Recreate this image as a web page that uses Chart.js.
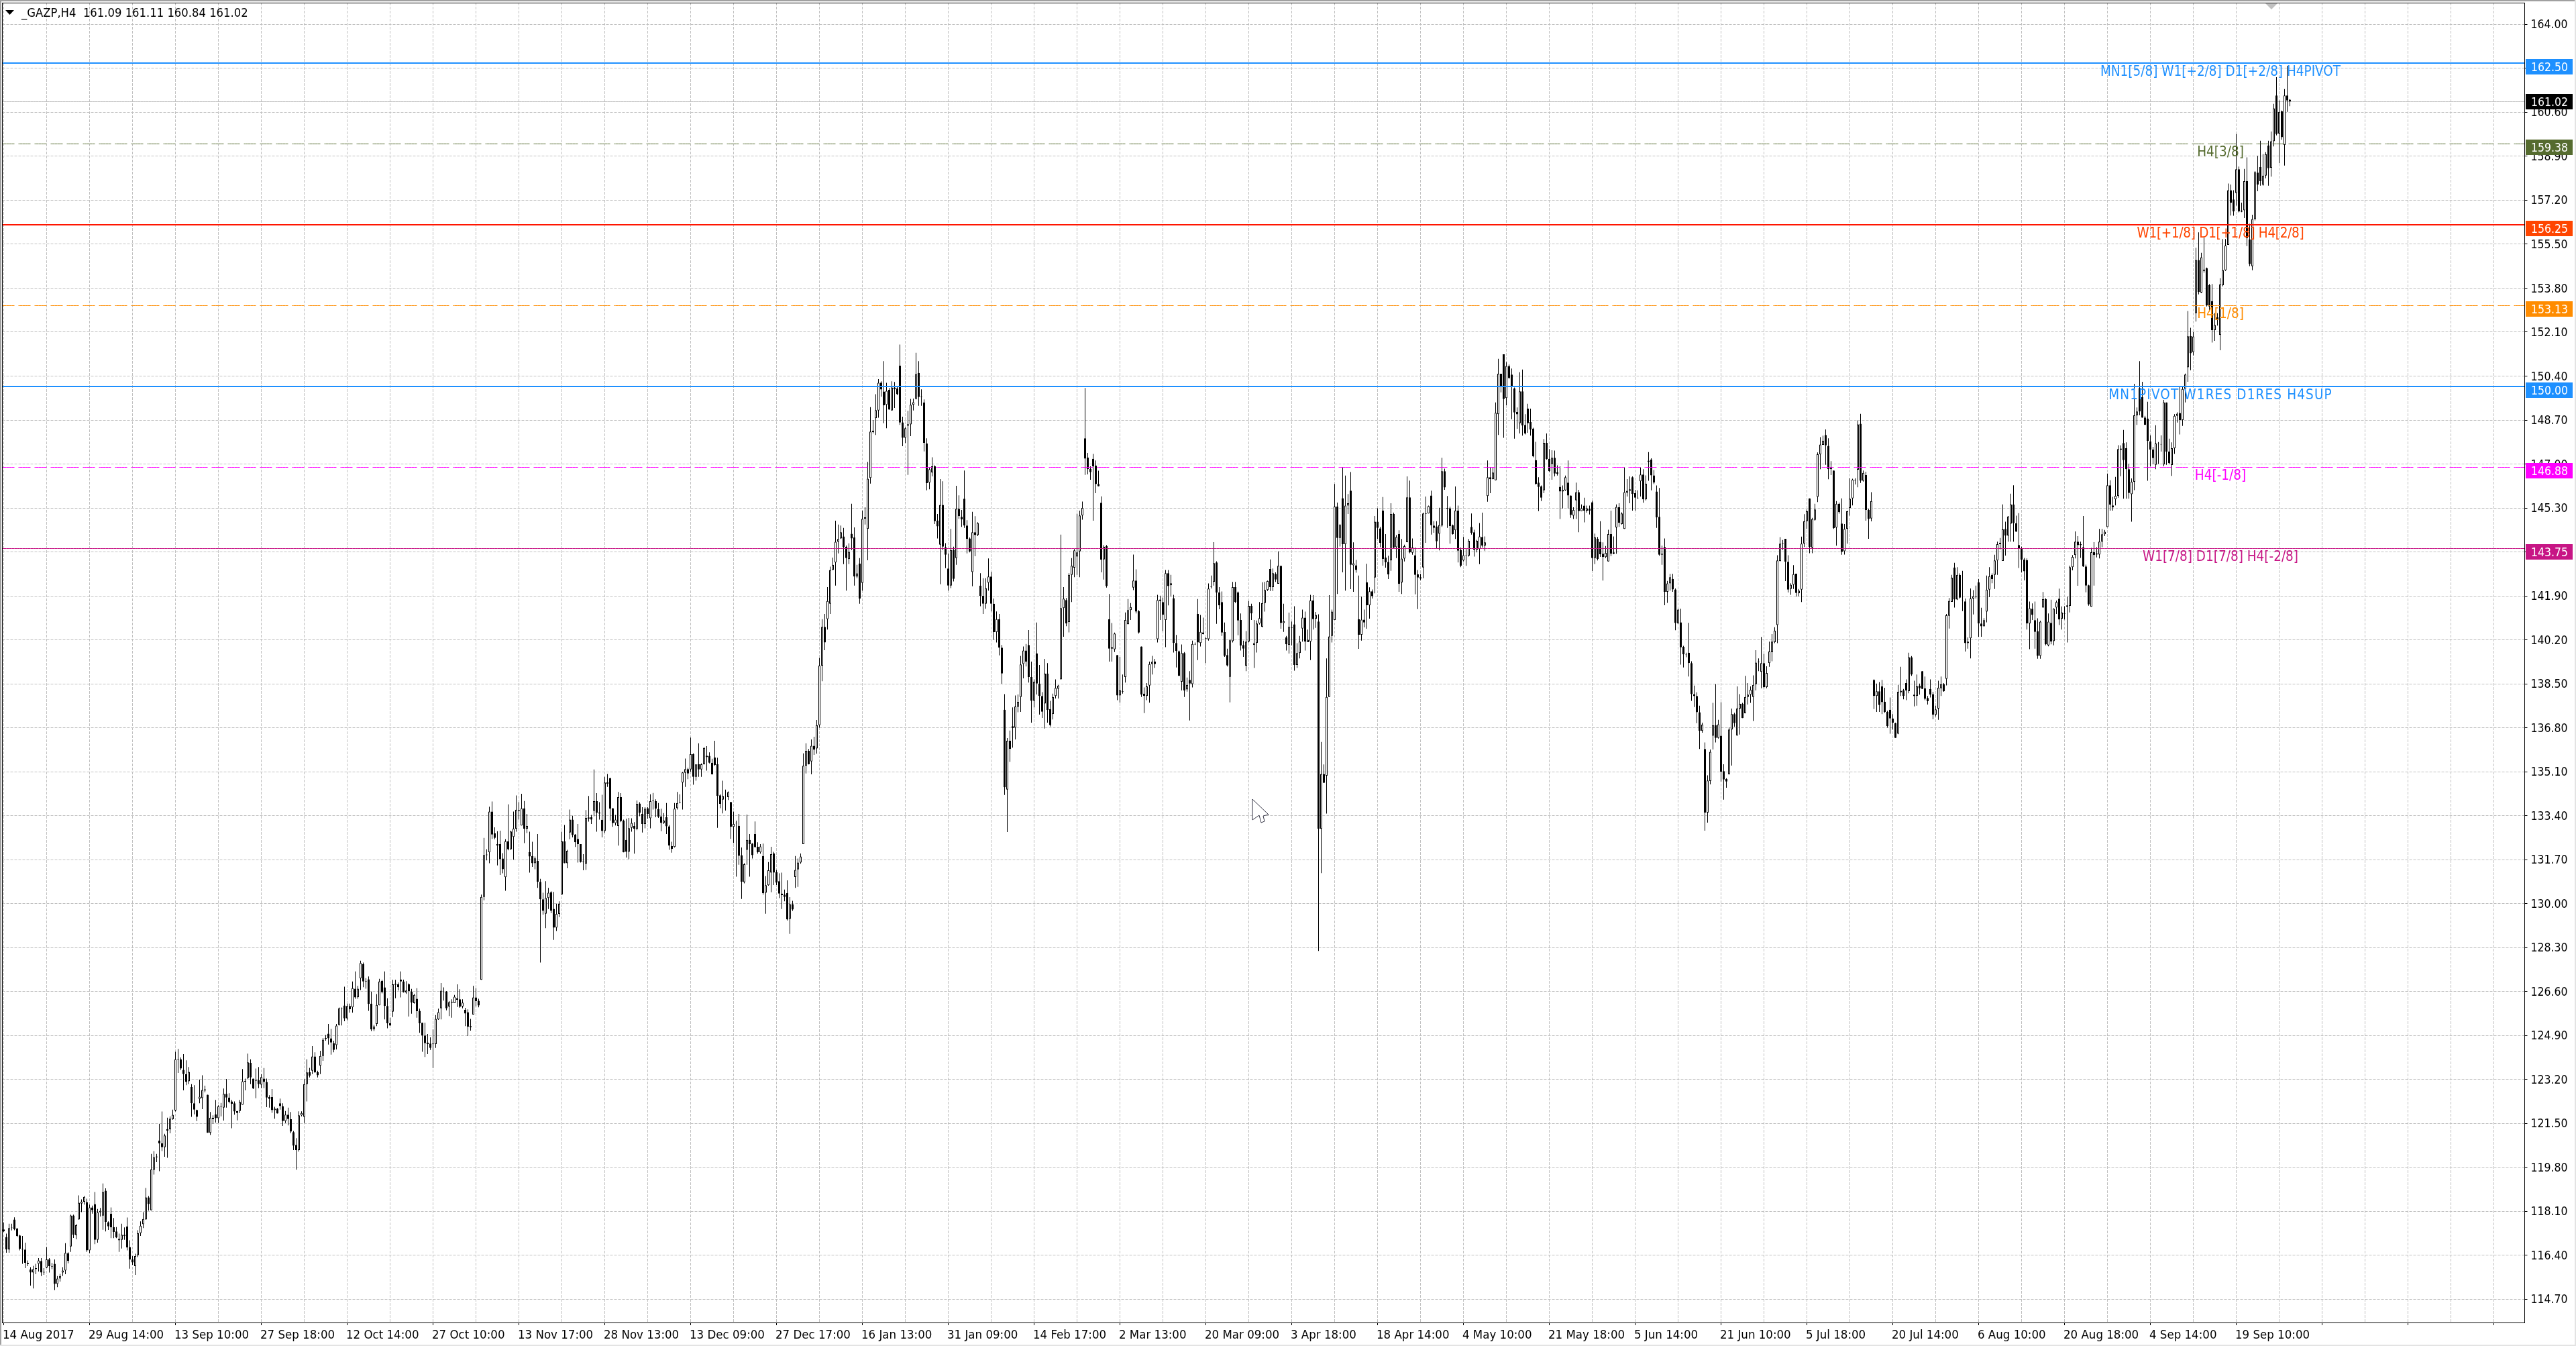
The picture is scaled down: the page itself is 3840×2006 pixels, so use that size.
<!DOCTYPE html>
<html><head><meta charset="utf-8">
<style>html,body{margin:0;padding:0;background:#fff}canvas{display:block}</style>
<script src="https://cdn.jsdelivr.net/npm/chart.js@4"></script></head>
<body><canvas id="c" width="3840" height="2006" style="width:3840px;height:2006px"></canvas>
<script>
// every row: open, close, high, low
const barsA=[[117.4,117.33,117.67,117.3],[117.11,116.63,117.24,116.5],[116.63,117.45,117.62,116.5],[117.45,117.47,117.62,117.36],[117.78,117.41,117.87,117.37],[117.43,117.15,117.45,117.11],[117.17,116.65,117.19,116.59],[116.65,116.62,117.15,116.07],[116.62,116.11,116.89,115.9],[116.1,116.06,116.2,115.98],[115.85,115.73,115.94,115.23],[115.73,115.86,115.99,115.12],[115.86,115.9,116.07,115.67],[116.07,116.2,116.29,115.77],[116.18,115.73,116.29,115.6],[115.76,115.73,115.9,115.64],[115.92,116.24,116.72,115.9],[116.24,115.98,116.29,115.73],[115.98,115.96,116.1,115.86],[116.07,115.29,116.24,115.05],[115.29,115.5,115.6,115.17],[115.5,115.6,115.68,115.38],[115.73,115.81,115.94,115.6],[115.81,116.49,116.87,115.67],[116.48,116.18,116.52,116.09],[116.74,117.94,117.97,116.53],[117.94,117.19,117.97,117.07],[117.18,117.56,117.61,117.02],[117.78,118.43,118.72,117.78],[118.4,118.47,118.56,118.07],[118.47,118.66,118.69,118.36],[118.46,116.59,118.59,116.53],[116.59,118.25,118.36,116.48],[118.25,118.14,118.32,118.01],[118.38,117,118.85,116.83],[117,118.06,118.19,116.89],[118.06,118.12,118.23,117.9],[117.93,118.85,119.18,117.39],[118.9,117.69,118.99,117.32],[117.68,117.52,117.71,117.38],[118.01,117.48,118.25,117.06],[117.49,117.3,117.84,117.06],[117.32,117.09,117.49,117.06],[116.98,117.04,117.24,116.53],[117,117.19,117.62,116.66],[117.19,117.14,117.48,117],[117.52,116.7,117.86,116.59],[116.72,116.24,116.98,115.88],[116.24,116.12,116.37,116.03],[115.98,116.37,116.46,115.64],[116.4,117.26,117.37,116.33],[117.26,117.54,117.71,117.15],[117.6,117.8,118.07,117.45],[117.78,118.64,119,117.78],[118.64,118.38,118.69,118.13],[118.14,119.72,120.32,118.14],[119.7,120.19,120.43,119.52],[120.19,120.22,120.32,120],
[120.84,120.73,121.48,119.65],[120.73,120.58,121.96,120.43],[120.58,121.03,121.1,120.21],[121.28,121.22,121.72,120.17],[121.27,121.68,121.77,121.12],[121.66,121.83,122.03,121.64],[122,123.98,124.27,121.96],[123.98,124,124.38,123.45],[123.98,123.62,124.05,123.56],[123.57,123.41,124.18,122.78],[123.4,123.1,123.94,122.98],[123.13,123.49,123.68,123.02],[122.91,122.28,123.02,121.75],[122.28,122.03,122.98,121.85],[122.02,121.75,122.03,121.59],[122.45,122.53,123.19,122.28],[122.48,122.79,123.36,122.05],[122.82,122.78,122.96,122.7],[122.61,121.14,122.61,121.14],[121.14,121.72,121.94,121.05],[121.72,121.66,121.81,121.49],[121.85,121.7,122.41,121.53],[121.7,122.16,122.2,121.51],[122.14,122.17,122.29,121.77],[122.11,122.64,122.85,121.61],[122.64,122.5,123.22,122.11],[122.5,122.33,122.67,122.28],[122.35,122.26,122.41,121.31],[122.28,121.96,122.35,121.84],[121.98,121.9,121.98,121.62],[121.98,122.33,122.41,121.9],[122.22,123.13,123.6,122.22],[123.11,123.15,123.23,122.78],[123.25,123.86,124.2,123.21],[123.84,123.28,123.98,123.02],[123.23,122.85,123.23,122.83],[123.18,123.15,123.62,122.47],[123.17,123.02,123.68,122.86],[123,123.29,123.4,122.86],[123.23,123.1,123.64,122.86],[123.1,122.5,123.23,122.13],[122.52,122.45,122.59,122.11],[122.52,122.01,122.83,121.91],[122.01,122.07,122.14,121.68],[122.07,121.88,122.1,121.88],[122.28,122.17,122.46,122.03],[122.17,121.59,122.28,121.4],[121.59,121.84,121.98,121.51],[121.84,121.67,122.11,121.42],[121.66,121.18,121.94,121.12],[121.16,120.64,121.21,120.47],[120.67,120.47,120.93,119.71],[120.47,121.81,121.97,120.41],[121.81,121.9,121.97,121.77],[121.75,123.02,123.21,121.51],[123.02,123.47,123.98,122.35],[123.48,123.35,123.65,123.28],[123.54,124.09,124.49,123.41],[124.09,123.48,124.25,123.45],[123.48,123.36,123.54,123.28],[123.73,124.11,124.31,123.41],[124.11,124.74,124.8,123.92],[124.76,124.8,124.92,124.7],[124.97,124.79,125.35,124.55],[124.79,124.63,125.15,124.16],[124.6,124.34,124.7,124.25],[124.53,125.28,125.35,124.36],[125.3,125.95,125.98,125.29],[125.95,125.93,125.98,125.29],[126.06,125.56,126.79,125.45],[125.56,126.04,126.13,125.48],[126.04,125.91,126.13,125.78],[125.99,126.73,126.99,125.78],[126.71,126.37,127.38,126.32],[126.38,126.71,126.82,126.32],[127.11,127.7,127.79,126.66],[127.66,126.99,127.72,126.77],[126.99,127.01,127.12,126.71],[127.07,126.12,127.18,125.85],[126.13,125.13,126.6,125.07],[125.14,125.24,125.31,125.07],[125.35,126.08,126.5,125.26],[126.07,126.99,127.09,126.07],[127.01,126.57,127.05,126.53],[126.76,126.04,127.38,125.52],[126.04,125.37,126.34,125.18],[125.38,125.28,125.59,125.28],[125.82,126.88,127.05,125.61],[126.9,126.86,127.05,126.34],[126.88,126.77,126.95,126.64],[127.06,126.99,127.38,126.37],[126.99,126.57,127.06,126.56],[126.56,126.64,127,126.51],[126.88,126.62,126.92,125.63],[126.6,126.17,126.7,125.74],[126.15,126.47,126.51,126.13],[126.32,125.84,126.73,125.59],[125.85,125.37,125.94,125],[125.39,124.9,125.39,124.27],[124.9,124.6,125.39,124.07],[124.63,124.57,124.96,124.18],[124.59,124.42,124.83,124.34],[124.59,124.56,125.13,123.64],[124.57,125.54,125.69,124.42],[125.52,125.8,125.94,125.5],[125.95,126.63,126.93,125.52],[126.6,126.58,126.76,126.25],[126.6,125.95,126.62,125.87],[126.02,126.19,126.23,125.65],[126.17,126.2,126.3,125.59],[126.15,126.4,126.47,126.15],[126.34,126.28,126.88,126],[126.3,126.01,126.69,125.97],[126.02,126.17,126.3,125.95],[125.9,125.75,125.97,125.26],[125.8,125.24,125.91,124.88],[125.26,125.22,125.54,125.09],[125.71,126.37,126.82,125.71],[126.37,126.23,126.73,126.02],[126.24,126.06,126.32,125.99]];
const barsB=[[127.05,130.26,130.35,127.05],[130.26,131.88,132.54,130.13],[131.87,131.9,132.1,131.67],[131.98,133.56,133.75,131.56],[133.56,132.67,133.95,132.5],[132.72,132.54,132.95,132.49],[132.3,132.24,132.8,131.48],[132.3,131.72,132.82,131.11],[131.74,131.33,131.95,131.17],[131.02,132.41,132.49,130.5],[132.41,132.1,133.84,132.06],[132.1,132.79,132.82,132.08],[132.58,132.9,133.56,131.7],[132.89,133.63,134.18,132.78],[133.62,133.58,133.92,133.25],[133.02,133.68,134.25,133.02],[133.68,132.89,133.97,132.34],[132.89,133,133.47,132.73],[131.99,131.82,132.78,131.2],[131.84,131.56,132.39,131.42],[131.56,131.75,131.82,131.33],[131.65,130.84,132.69,130.61],[130.84,130.17,130.96,127.72],[130.17,129.72,130.42,129.57],[129.61,130.22,130.87,129.05],[130.22,130.42,130.61,129.79],[130.44,129.72,130.48,129.63],[129.8,129.07,130.45,128.6],[129.07,129.6,130,128.94],[129.6,129.99,130.09,129.48],[130.35,132.41,132.78,130.35],[132.41,131.56,133.04,131.56],[131.56,132.04,132.08,131.37],[132.75,133.25,133.64,132.49],[133.25,132.65,133.4,132.56],[132.67,132.37,132.69,132.19],[132.5,132.3,133.08,131.59],[132.3,131.61,132.3,131.59],[131.62,131.6,131.91,131.29],[131.54,133.31,133.62,131.3],[133.33,133.29,134.16,133.17],[133.34,133.25,133.43,133.08],[133.6,133.96,135.19,133.38],[133.96,133.51,134.27,132.78],[133.52,133.48,133.92,133.25],[133.24,132.81,134.21,132.56],[132.81,134.68,134.9,132.73],[134.69,134.63,135.01,134.51],[134.86,133.67,134.86,133.21],[133.69,133.11,133.69,132.97],[133.11,133.25,133.43,133.02],[133,134.12,134.32,132.24],[134.12,133.19,134.27,133.15],[133.21,131.98,133.25,131.98],[132.46,132,133.28,131.78],[132,132.92,133.31,131.72],[132.93,133.12,133.3,132.78],[133,132.89,133.15,131.93],[132.89,133.86,133.99,132.84],[133.87,133.51,133.92,133.38],[133.47,133.08,133.73,132.75],[133.08,133.67,133.73,132.91],[133.69,133.47,133.73,133.28],[133.3,133.96,134.23,132.91],[133.99,133.97,134.28,133.64],[133.96,133.67,134.03,133.34],[133.66,133.36,133.89,133.31],[133.37,133.12,133.67,132.8],[133.12,133.21,133.5,133.08],[133.34,132.99,133.89,132.69],[132.99,132.24,133.04,132.08],[132.22,132.11,132.39,131.97],[132.19,133.67,133.89,132.17],[133.69,133.89,134.32,133.64],[133.9,133.92,134.23,133.88],[134.68,135.07,135.09,133.64],[135.06,135.2,135.61,134.51],[135.2,135.03,135.25,134.81],[135.19,135.78,136.42,135.1],[135.78,134.9,135.81,134.6],[134.9,135.38,135.39,134.75],[135.39,135.19,136.2,134.9],[135.19,135.39,135.42,134.9],[135.39,136.02,136.05,135.38],[135.72,135.66,136.09,135.14],[135.71,135.45,135.85,135.42],[135.45,135,135.6,134.99],[135.65,135.36,136.3,135.33],[135.39,134.16,135.64,132.93],[134.19,133.86,134.23,133.69],[134.02,134.16,134.75,133.49],[134.14,134.13,134.41,133.6],[134.12,134.31,134.34,134.01],[133.93,132.97,133.93,132.5],[132.97,133.08,133.56,132.34],[133.12,133.1,133.21,131.04],[133.01,131.85,133.47,131.5],[131.87,130.85,132.17,130.18],[130.83,131.52,131.56,130.78],[132.08,132.46,133.44,131.5],[132.46,132.3,132.69,131.04],[132.32,131.87,132.34,131.74],[132.69,132.19,133.18,132.15],[132.2,131.98,132.37,131.93],[131.98,132.21,132.3,131.93],[131.84,130.41,132.32,130.35],[130.42,130.71,131.06,129.61],[130.71,131.29,131.61,130.69],[131.2,131.91,132.2,130.44],[131.94,131.2,132,130.72],[131.22,130.81,131.3,130.72],[130.87,130.39,131.17,130.21],[130.39,130.33,131.2,129.79],[130.35,130.26,130.54,130.09],[130.41,129.39,130.9,129.35],[129.41,129.98,130.25,128.83],[129.98,129.77,130.11,129.72],[131.03,131.3,131.84,130.61],[131.32,131.59,131.74,130.65],[131.59,131.82,131.94,131.54],[132.3,135.33,135.81,132.3],[135.33,135.91,136.2,135.03],[135.91,135.39,135.98,135.38]];
const barsC=[[135.5,136.1,136.35,135],[136.1,135.95,136.45,135.75],[136,136.9,137.1,135.8],[136.9,139.2,139.5,136.8],[139.2,140.7,141,138.6],[140.7,140.1,141.2,139.8],[141,141.7,142.24,140.6],[141.6,142.9,143.03,141.2],[142.9,143.1,143.38,142.9],[143.19,143.99,144.81,142.3],[143.99,144.1,144.66,143.54],[144.12,144.36,144.62,144.1],[144.2,143.78,144.53,143.13],[143.8,143.36,143.85,142.1],[143.32,143.6,143.93,143.13],[144.3,144.12,145.46,143.67],[144.16,142.65,144.55,142.3],[142.65,142.77,143.1,142.58],[143.15,141.8,143.36,141.6],[142.4,144.88,145.2,142.1],[144.88,144.94,145.33,144.66],[144.49,146.43,147.08,143.28],[146.46,148.25,149.2,146.24],[148.23,148.29,148.7,148.19],[148.77,149.08,149.7,148.12],[149.07,150.14,150.28,148.79],[150.15,149.88,150.2,149.6],[149.8,149.27,150.98,148.58],[149.29,149.83,150.14,148.38],[149.87,149.1,149.94,149.1],[149.07,149.96,150.2,149.07],[149.96,149.89,150.17,149.17],[149.92,149.7,150.02,149.66],[150.8,148.6,151.62,148.51],[148.61,148.01,148.83,147.69],[148.01,148.38,148.42,147.82],[148.48,148.54,149.06,146.58],[148.53,149.29,149.52,148.08],[149.29,149.39,149.53,149.07],[149.52,150.48,151.3,149.5],[150.52,149.59,150.98,149.25],[149.6,149.58,149.89,149.25],[149.38,147.82,149.5,147.49],[147.79,146.26,147.99,145.98],[146.28,146.8,146.87,146.02],[146.67,146.91,147.26,146.52],[146.91,144.79,146.95,144.68],[144.81,144.59,145.07,144.12],[143.88,145.42,146.42,142.35],[145.42,143.8,146.33,143.67],[143.78,143.49,143.94,142.97],[142.96,142.3,143.54,142.1],[142.3,143.67,144.49,142.2],[143.68,142.56,143.8,142.46],[143.36,145.27,146.16,143.1],[145.27,144.98,145.79,144.88],[144.96,144.86,145.22,144.57],[145.66,144.62,146.75,144.53],[144.62,144.1,144.83,143.54],[144.12,143.62,144.16,143.58],[142.82,144.36,145.15,142.27],[144.36,144.25,144.98,143.43],[144.25,144.72,144.75,144.21],
[142.3,141.9,142.78,141.5],[141.9,141.6,142.58,141.2],[141.6,142.2,142.58,141.4],[142.41,142.65,143.35,142.1],[142.65,141.6,142.83,141.3],[141.6,140.5,141.8,140.2],[140.5,141,141.3,140.1],[141,139.9,141.2,139.6],[139.9,138.9,140,138.5],[137.5,134.5,138.1,134.2]];
const barsD=[[134.41,136.3,136.4,132.77],[136.3,135.98,136.69,135.48],[136.86,136.79,137.59,136.03],[136.8,137.62,138.05,136.35],[137.62,137.8,138.09,137.4],[137.99,139.25,139.58,137.41],[139.27,139.79,139.94,138.71],[139.79,139.36,140.04,139.17],[140,138.76,140.58,138.55],[138.76,137.84,139.36,137],[137.84,138.58,138.67,137.59],[139.68,138.51,140.87,138.09],[138.51,138.03,139.23,137.31],[138.03,137.42,138.18,137.18],[137.74,138.89,139.46,136.77],[138.89,137.49,139.3,137],[137.52,136.9,137.84,136.85],[137.33,137.99,138.12,137.12],[138.03,138.34,138.67,137.93],[138.31,138.43,138.46,137.93],[138.67,141.43,144.27,138.67],[141.43,141.79,142.24,140.32],[141.74,140.83,141.82,140.73],[140.89,142.71,142.78,140.49],[142.71,143.06,143.36,141.66],[142.99,143.66,143.71,142.62],[143.42,143.58,145.08,142.71],[143.62,145.01,145.2,142.62],[145.01,145.3,145.55,144.85],[147.99,147.21,149.94,146.58],[147.25,146.8,147.43,146.6],[146.81,146.68,146.91,146.39],[147.2,146.91,147.39,144.81],[146.94,146.22,147.14,145.87],[146.23,146.14,146.74,146.14],[145.5,143.3,145.75,142.81],[143.31,143.8,143.86,142.53],[143.83,142.28,143.87,142.22],[141,139.86,141.97,139.36],[139.92,139.86,140.85,139.36],[139.83,140.44,140.48,139.73],[139.61,138.05,139.61,137.87],[138.05,138.24,139.54,137.77],[138.2,138.22,138.86,138.12],[138.76,140.97,141.26,138.55],[140.81,141.35,141.78,140.79],[141.35,141.47,141.62,140.97],[142.22,142.49,143.5,142.12],[142.49,141.29,142.93,141.22],[141.31,140.48,141.35,140.44],[139.94,138.09,139.94,137.99],[138.12,138.03,138.36,137.37],[138.03,138.4,138.53,137.87],[138.43,139.26,139.36,137.77],[139.26,139.35,139.58,138.86],[139.36,139.26,139.46,139.11],[140.23,141.74,141.94,140.1],[141.76,141.7,141.91,140.97],[141.66,141.17,141.84,140.54],[140.97,142.78,142.9,139.92],[142.78,142.28,142.9,141.53],[142.31,142.39,142.71,141.88],[141.81,140.08,141.94,139.71],[140.08,139.77,140.39,139.13],[139.76,138.81,139.79,138.8],[138.58,139.69,140.02,138.24],[139.69,138.24,139.73,137.99],[138.28,138.45,138.74,138.2],[138.65,138.51,138.99,137.08],[138.49,140.04,140.17,138.36],[140.04,140.02,140.1,140],[141.2,140.1,141.78,139.42],[140.08,140.51,141.16,139.94],[140.49,140.42,141.06,140.41],[140.26,140.24,140.3,139.3],[140.23,142.18,142.38,140.17],[142.24,142.26,142.69,142.19],[142.44,143.17,143.98,142.3],[143.19,142.03,143.24,140.82],[142.03,141.53,142.24,141.38],[141.66,140.48,142.07,140.35],[140.5,139.58,140.87,139.54],[139.61,139.21,139.86,139.17],[138.77,140.18,140.23,137.78],[140.15,142.24,142.44,140.1],[142.24,141.66,142.44,141.62],[142.03,140.95,142.07,140.38],[140.97,139.98,141.22,139.79],[140,139.86,140.17,139.54],[139.2,140.13,140.54,138.99],[140.14,141.51,141.7,140.1],[141.51,141.22,141.6,140.97],[140,140.07,140.97,139.11],[140.08,140.83,140.95,139.71],[140.83,141.04,141.66,140.79],[140.7,141.62,142.43,140.69],[141.62,142.13,142.44,141.29],[142.13,142.47,142.49,142.09],[142.94,142.24,143.31,142.09],[142.24,142.78,142.96,142.09],[142.75,142.53,142.81,142.44],[142.37,143.06,143.62,142.37],[143.06,140.85,143.06,140.63],[140.85,140.92,141.6,140.51],[140.29,140.03,140.35,139.79],[140,140.7,141.25,139.67],[140.68,140.66,140.91,139.98],[140.8,139.23,141.5,139.01],[139.23,139.69,140.07,139.11],[139.69,140.13,140.35,139.48],[140.64,141.06,141.37,140.13],[141.06,140.13,141.29,139.79],[140.11,140.2,140.6,140.11],[140.13,141.72,141.94,139.42],[141.72,141,141.93,140.6],[141.01,141.16,141.28,140.66],[140.91,132.89,141.19,128.17],[132.89,135.01,136.25,131.18],[135.01,134.67,135.38,134.67],[134.95,137.99,139.48,133.48],[137.99,140.33,141.93,137.99],[140.35,141.29,141.37,140.1],[140.97,145.35,146.23,140.97],[145.35,144.14,145.51,141.97],[144.14,144.64,144.68,143.81]];
const barsE=[[145.68,143.9,146.87,142.81],[143.9,145.39,146.55,142.1],[145.39,145.48,145.84,145.07],[145.97,143.1,146.69,142.16],[143.08,143.16,143.97,142.06],[143.08,142.9,143.29,142.8],[141,140.4,142.69,139.85],[140.4,140.98,141.87,140.17],[140.98,140.87,141.37,140.68],[142.43,141.54,143.14,140.63],[141.54,142.08,142.23,141.02],[142.08,141.89,142.15,141.8],[142.61,144.77,144.99,142],[144.77,144.53,145.29,144.11],[144.51,143.95,144.57,143.78],[145.2,143.33,145.72,143.07],[143.38,143.2,144.29,142.99],[143.21,142.73,143.45,142.55],[143.27,145.07,145.48,142.87],[145.07,143.77,145.12,143.73],[143.78,144.18,144.25,143.36],[144.29,142.36,144.44,142.06],[142.42,143.34,144.1,141.97],[143.34,143.82,143.88,143.23],[143.98,145.71,146.52,143.97],[145.71,143.58,146.36,143.55],[143.57,143.77,144.12,143.49],[143.47,142.71,143.77,141.96],[142.73,142.61,142.9,141.39],[142.62,142.57,142.75,142.51],[143,145.09,145.12,142.58],[145.09,145.07,145.74,143.95],[145.09,145.37,145.39,145.09],[145.78,144.63,145.97,144.27],[144.62,144.53,144.79,144.34],[144.59,144.01,144.79,143.73],[144.3,144.64,145.31,143.66],[144.62,146.72,147.24,144.57],[146.72,146.09,146.82,146],[145.3,145.27,145.76,144.53],[145.29,144.6,145.35,143.92],[144.63,144.29,144.66,144.27],[144.44,145.2,146.13,144.1],[145.2,143.65,145.39,143.19],[143.68,143.07,143.77,143.01],[143.27,143.47,144.18,143.23],[143.47,143.45,143.71,143.06],[143.45,144.03,144.1,143.42],[144.57,144.34,145.09,144.27],[144.36,143.68,144.46,143.42],[143.68,144.03,144.07,143.58],[143.71,144.2,144.72,143.13],[144.18,143.85,145.12,143.77],[143.85,143.97,144.2,143.65],[145.76,146.49,147.14,145.54],[146.49,146.41,146.87,145.87],[146.41,146.67,146.87,146.41],[146.37,148.98,149.38,146.37],[148.93,150.49,151.07,148.12],[150.49,150,150.49,149.77],[151.24,149.51,151.24,148.01],[149.55,150.79,150.94,149.27],[150.79,150.33,150.85,150.29],[150.46,149.97,150.69,148.73],[149.92,148.99,149.96,147.98],[149.01,148.92,149.19,148.36],[148.58,149.81,150.55,148.18],[149.81,148.49,150.65,148.1],[148.51,148.18,148.93,148.14],[149.14,148.58,149.33,148.21],[148.62,148.34,149.14,148.1],[148.37,147.3,148.4,147.26],[147.15,146.23,147.86,146.2],[146.28,146.11,146.49,145.18],[146.13,145.7,146.17,145.57],[145.98,147.82,147.97,145.87],[147.82,147.19,148.18,147.17],[147.2,146.72,147.58,146.69],[147,147.24,147.53,146.39],[147.24,146.63,147.52,146.52],[146.68,146.62,146.95,146.55],[146.12,145.94,146.91,144.87],[145.94,146,146.17,145.28],[145.98,146.49,146.55,145.96],[146.28,145.78,147.14,145.28],[145.78,145.03,145.78,144.92],[145,145.22,145.33,144.87],[145.59,145.91,146.28,144.87],[145.91,145.18,146,144.36],[145.18,145.29,145.44,145.18],[145.39,145.2,145.7,144.74],[145.2,145.29,145.39,145.12],[145.26,145.2,145.39,145.05],[145.52,143.36,145.58,142.86],[143.36,144.16,144.31,143.13],[144.11,143.33,144.18,143.27],[143.99,143.51,144.79,143.41],[143.53,143.4,143.97,142.49],[143.4,143.56,143.83,143.36],[143.23,144.29,144.46,143.23],[144.29,143.53,145.2,143.44],[143.58,143.53,144.2,143.51],[144.55,145.34,145.44,143.53],[145.33,144.73,145.48,144.57],[144.68,145.09,145.13,144.66],[144.49,145.91,146.87,144.49],[145.9,145.96,146.42,145.74],[145.96,146.02,146.52,145.48],[146.49,145.84,146.52,145.2],[145.87,145.7,146,145.2],[145.7,145.68,145.98,145.65],[146.33,146.59,146.87,145.74],[146.59,145.63,146.8,145.5],[145.63,146.24,146.56,145.59],[147.08,147.13,147.46,146.35],[147.17,146.56,147.22,145.98],[146.56,146.28,146.77,146.22],[145.94,144.94,146.17,144.53],[144.96,143.49,146.07,143.45],[143.53,143.49,143.84,143.1],[143.79,142.06,144.12,141.54],[142.06,142.38,142.48,141.63],[142.38,142.62,142.75,142.1],[142.56,142.15,142.75,142.06],[142.15,140.85,142.19,140.57]];
const barsF=[[140.83,141.37,141.4,140.83],[140.88,139.91,141.4,139.24],[139.93,139.64,139.97,139.13],[139.63,139.61,139.7,139.53],[139.7,139.3,140.86,138.78],[139.3,138.1,139.37,137.84],[138.1,138.02,138.43,137.6],[138.03,137.4,138.17,136.98],[137.4,136.68,137.65,135.98],[136.68,136.92,137,136.61],[135.98,133.52,136.23,132.82],[133.52,134.76,134.96,133.13],[134.74,135.87,135.96,134.61],[136.49,136.9,137.76,135.96],[136.9,136.41,138.49,136.23],[136.41,136.93,137.11,136.38],[136.49,135.1,137.79,134.72],[135.12,134.8,135.39,134.02],[134.82,134.72,134.85,134.48],[135,136.73,136.81,135],[136.73,137.33,137.54,135.34],[137.33,136.98,137.38,136.84],[136.5,137.54,138.4,136.5],[137.54,137.73,138.1,136.54],[137.73,137.17,137.76,137.17],[137.36,137.99,138.81,137.36],[137.99,138.08,138.53,137.7],[138.08,138.27,138.4,137.76],[137.99,138.46,138.83,137.06],[138.48,139.32,139.8,138.24],[139.33,139.35,139.48,138.99],[138.96,139.3,140.31,138.33],[139.3,138.37,139.66,138.33],[138.37,138.92,139.18,138.33],[139.3,139.75,140.13,139.16],[139.72,140.13,140.42,139.37],[140.11,140.55,140.69,140.07],[140.77,143.27,143.47,140.07],[143.25,143.92,144.17,143.23],[143.93,143.95,144.06,143.68],[144.11,143.22,144.11,142.47],[143.22,142.14,143.47,142.03],[142.17,142.33,142.39,141.94],[142.33,142.74,143.09,142.17],[142.76,142.01,142.76,141.87],[142,142.1,142.17,141.88],[142.14,143.92,144.19,141.66],[143.92,144.79,145.06,143.79],[144.79,145.17,145.24,144.49],[145.67,143.79,145.67,143.55],[143.77,144.87,144.92,143.55],[144.84,145.24,145.46,144.81],[145.73,147.38,147.45,145.53],[147.37,147.75,148.04,146.8],[147.74,147.9,148.1,147.74],[148.12,147.72,148.34,146.97],[147.7,146.8,147.99,146.41],[146.8,146.87,147.11,146.57],[146.75,144.52,146.75,144.49],[144.54,145.46,145.57,143.84],[145.46,145.14,145.51,145.08],[144.7,143.6,145.67,143.49],[143.63,144.49,144.68,143.5],[144.49,145.17,145.19,143.92],[145.3,145.66,146.45,145],[145.67,146.4,146.43,145.4],[146.39,146.37,146.45,146.21],[146.78,148.53,148.69,146.1],[148.56,146.35,148.94,146.27],[146.35,146.66,146.75,146.32],[146.57,145.22,146.7,144.81],[145.22,144.87,145.27,144.11],[144.89,145.57,145.91,144.78]];
const barsG=[[138.65,138.03,138.67,137.52],[138.03,138.21,138.51,137.41],[138.21,137.68,138.57,137.41],[138.4,137.79,138.65,137.33],[137.81,137.41,138.35,137.38],[137.41,136.86,137.46,136.8],[137.5,137.16,137.97,136.57],[137.16,137,137.33,136.73],[136.98,136.41,137,136.41],[136.57,138.19,138.46,136.55],[138.17,138.23,139.16,138.03],[138.24,138.03,138.3,137.9],[138.53,138.24,138.67,137.87],[138.22,139.53,139.7,138.13],[139.53,138.86,139.57,138.81],[138.08,138.02,138.62,137.63],[138.03,138.4,138.86,137.65],[138.43,138.33,138.51,138.08],[138.99,138.3,138.99,138.3],[138.32,137.92,138.78,137.87],[137.95,137.83,138.03,137.7],[138.3,138.08,138.67,137.97],[138.1,137.3,138.19,137.13],[137.3,137.51,137.65,137.24],[137.54,138.35,138.62,137.11],[138.33,138.49,138.78,138.03],[138.49,138.21,138.53,138.19],[138.69,141.15,141.2,138.44],[141.13,141.71,141.82,140.64],[141.67,142.6,142.71,141.67],[143,141.76,143.18,141.45],[141.76,142.71,143.01,141.74],[142.71,141.83,142.77,141.8],[141.72,141.71,142.87,141.31],[141.69,140.07,141.8,139.75],[140.07,140.13,140.29,139.86],[140.26,141.8,142.19,139.48],[141.8,141.88,142.12,141.18],[141.88,141.9,142.3,141.8],[142.42,140.83,142.55,140.32],[140.83,140.72,141.44,140.32],[140.72,140.96,141.04,140.72],[141.29,142.14,142.69,140.88],[142.14,142.66,143.01,141.85],[142.71,142.55,142.77,142.39],[142.71,143.27,143.49,142.17],[143.27,143.9,144,142.71],[143.9,143.96,144.14,143.7],[143.25,144.47,145.44,143.25],[144.49,144.23,144.77,143.46],[144.23,144.97,144.99,144],[144.69,145.43,145.85,144],[145.43,144.71,146.18,144],[144.71,144.38,145,144.38],[143.87,143.74,145.1,142.98],[143.73,143.3,143.8,142.81],[143.3,142.85,143.37,142.5],[143.28,140.83,143.35,140.6],[140.83,141.42,141.68,139.84],[141.4,141.16,141.61,140.97],[140.96,140.51,141.68,139.86],[140.53,139.58,141.03,139.47],[139.58,140.9,140.94,139.47],[141.45,141.77,142.05,141.45],[141.77,140.03,141.81,139.99],[139.99,140.9,141.22,139.95],[140.86,140.14,141.75,140.03],[140.15,141.4,141.42,139.99],[141.45,141.66,141.72,141.2],[141.79,140.99,142.18,140.77],[141.01,141.25,141.49,140.6],[141.22,141.2,141.5,140.99],[141.53,141.48,141.87,140.1],[141.51,143.01,143.07,141.26],[143.01,143.41,143.48,142.89],[143.48,144,144.39,143.35],[144,143.86,144.21,142.29],[143.9,143.86,144,143.37],[143.78,143.04,144.99,143.02],[143.04,142.3,143.11,142.04],[142.31,141.57,142.33,141.52],[141.48,143.59,143.76,141.48],[143.59,143.48,143.98,142.3],[143.5,143.54,143.78,143.39],[143.5,144,144.49,143.35],[144,144.28,144.49,143.78],[144.28,144.38,144.45,144.21],[144.56,146.18,146.63,144.56],[146.18,145.43,146.37,145.2],[145.4,145.32,145.73,145.2],[145.64,145.77,146.5,145.4]];
const barsH=[[145.76,147.58,147.73,145.7],[147.6,147.55,147.72,146.53],[147.81,147.15,148.32,145.66],[147.61,146.8,147.84,145.66],[146.8,145.88,147,145.66],[145.83,146.31,146.44,144.77],[146.31,148.88,150.1,145.99],[148.88,149.03,149.19,148.51],[149.94,149.03,150.98,148.89],[149.58,148.79,150.18,148.79],[148.8,148.51,148.86,148.51],[148.76,147.89,149.41,146.35],[147.87,147.56,148.11,146.91],[147.56,147.23,147.66,147],[146.97,147.79,148.5,146.8],[147.79,147.78,147.85,147],[147.77,147.75,148.11,147.48],[146.98,149.38,149.48,146.91],[149.38,147.48,149.38,146.97],[147.48,147.03,147.98,147],[146.96,147.61,147.84,146.54],[147.61,148.86,148.93,147.39],[148.86,148.95,149,148.6],[148.97,148.7,149.97,148.14],[148.7,149.9,149.98,148.47],[149.9,150.46,150.5,149.38],[150.74,151.94,152.92,150.18],[151.95,151.28,152.27,150.63],[151.33,151.93,152.1,151.2],[152.83,154.89,155.36,152.51],[154.89,153.65,155.96,153.56],[153.63,154.99,155.17,153.61],[154.52,154.47,155.77,154.4],[154.58,153.13,154.6,153.09],[153.92,153.09,153.96,152.9],[153.3,152.18,153.96,151.7],[152.18,152.38,152.83,151.76],[152.67,152.57,152.83,152.35],[151.99,153.94,154.19,151.4],[153.91,154.5,155.7,153.87],[154.49,155.45,155.7,154.47],[155.47,157.59,157.85,155.47],[157.59,157.1,157.81,156.61],[157.23,156.77,157.59,156.6],[157.48,158.4,159.76,156.99],[158.4,156.77,158.5,156.73],[156.8,156.76,157.11,156.74],[156.81,157.94,158.41,156.51],[157.94,155.73,158.86,155.43],[155.69,154.73,156.29,154.65],[154.65,156.47,156.64,154.49],[156.47,158.28,158.33,156.42],[158.27,157.81,158.92,157.55],[158.48,157.94,159.5,157.76],[157.81,158.15,158.98,157.76],[158.15,158.98,159.06,158.05],[159.32,158.44,159.5,157.76],[158.46,159.48,159.86,158.11],[159.48,160.75,160.93,159.28],[161.25,159.76,161.96,159.71],[159.78,160.62,161.06,158.63],[160.64,159.64,160.67,159.54],[159.34,161.25,161.5,158.54],[161.25,161.06,162.4,160.62],[161.09,161.02,161.11,160.84]];

const priceTicks=[164,162.3,160.6,158.9,157.2,155.5,153.8,152.1,150.4,148.7,147,145.3,143.6,141.9,140.2,138.5,136.8,135.1,133.4,131.7,130,128.3,126.6,124.9,123.2,121.5,119.8,118.1,116.4,114.7];
const dateLabels=["14 Aug 2017","29 Aug 14:00","13 Sep 10:00","27 Sep 18:00","12 Oct 14:00","27 Oct 10:00","13 Nov 17:00","28 Nov 13:00","13 Dec 09:00","27 Dec 17:00","16 Jan 13:00","31 Jan 09:00","14 Feb 17:00","2 Mar 13:00","20 Mar 09:00","3 Apr 18:00","18 Apr 14:00","4 May 10:00","21 May 18:00","5 Jun 14:00","21 Jun 10:00","5 Jul 18:00","20 Jul 14:00","6 Aug 10:00","20 Aug 18:00","4 Sep 14:00","19 Sep 10:00"];
const levelValues=[162.5,159.38,156.25,153.13,150,146.88,143.75];
const levelTexts=["MN1[5/8] W1[+2/8] D1[+2/8] H4PIVOT","H4[3/8]","W1[+1/8] D1[+1/8] H4[2/8]","H4[1/8]","MN1PIVOT W1RES D1RES H4SUP","H4[-1/8]","W1[7/8] D1[7/8] H4[-2/8]"];
const levelTextSpacing=[0,0,-0.3,0,1.15,0,0];
const levelBoxColors=["#1E90FF","#556B2F","#FF4500","#FF8C00","#1E90FF","#FF00FF","#C71585"];
const levelLineColors=["#1E90FF","#556B2F","#FF1500","#FF8C00","#1E90FF","#FF00FF","#C71585"];
const levelWidths=[2,1,2,1,2,1,1];
const levelDashed=[false,true,false,true,false,true,false];
const currentPrice=161.02;
const headerText="_GAZP,H4  161.09 161.11 160.84 161.02";

const BAR_SLOTS=940;
const FONT='"DejaVu Sans Condensed","Noto Sans",sans-serif';
const allBars=[...barsA,...barsB,...barsC,...barsD,...barsE,...barsF,...barsG,...barsH];
const labels=Array.from({length:BAR_SLOTS},(_,i)=>i);
const wicks=labels.map(i=>allBars[i]?[allBars[i][3],allBars[i][2]]:null);
const bodies=labels.map(i=>allBars[i]?[allBars[i][0],allBars[i][1]]:null);
const bodyFill=labels.map(i=>allBars[i]&&allBars[i][1]>=allBars[i][0]?'#fff':'#000');

const levelDatasets=levelValues.map((v,k)=>({type:'line',data:labels.map(()=>v),borderColor:levelLineColors[k],borderWidth:levelWidths[k],borderDash:levelDashed[k]?[18,6]:[],pointRadius:0,fill:false,tension:0,order:0}));
const currentDataset={type:'line',data:labels.map(()=>currentPrice),borderColor:'#C0C0C0',borderWidth:1,pointRadius:0,fill:false,order:3};

const zeroPad=s=>{s.paddingTop=s.paddingBottom=s.paddingLeft=s.paddingRight=0;if(s._margins){s._margins.top=s._margins.bottom=s._margins.left=s._margins.right=0;}};

const overlay={id:'overlay',
 // keep the flat level lines on whole device pixels and across the full plot width
 afterDatasetsUpdate(ch){const a=ch.chartArea;ch.getSortedVisibleDatasetMetas().forEach(m=>{if(m.type!=='line')return;const w=m.controller.getDataset().borderWidth;
   m.data.forEach(pt=>{pt.y=w%2?Math.round(pt.y)+.5:Math.round(pt.y);});m.data[0].x=a.left;m.data[m.data.length-1].x=a.right;});},
 beforeDraw(ch){const c=ch.ctx;c.save();c.fillStyle='#fff';c.fillRect(0,0,3840,2006);c.fillStyle='#A0A0A0';c.fillRect(0,0,3840,2);c.fillRect(0,0,2,2006);c.fillStyle='#E3E3E3';c.fillRect(0,2004,3840,2);c.fillRect(3838,0,2,2006);c.restore();},
 afterDraw(ch){const c=ch.ctx,y=ch.scales.y,a=ch.chartArea;c.save();
  c.strokeStyle='#000';c.lineWidth=1;c.strokeRect(a.left,Math.round(a.top)+.5,a.right-a.left,Math.round(a.bottom-a.top));
  c.fillStyle='#C0C0C0';c.beginPath();c.moveTo(3377,5);c.lineTo(3395,5);c.lineTo(3386,14);c.closePath();c.fill();
  c.fillStyle='#000';c.beginPath();c.moveTo(8,15);c.lineTo(21,15);c.lineTo(14.5,22);c.closePath();c.fill();
  c.font='18.3px '+FONT;c.textBaseline='middle';c.textAlign='left';c.fillText(headerText,32,20);
  levelValues.forEach((v,k)=>{const p=Math.round(y.getPixelForValue(v));
   c.fillStyle=levelBoxColors[k];c.textAlign='center';c.font='20.5px '+FONT;c.letterSpacing=levelTextSpacing[k]+'px';c.fillText(levelTexts[k],3310,p+13.5);c.letterSpacing='0px';
   c.font='17.5px '+FONT;c.fillRect(3765,p-6,70,23);c.fillStyle='#fff';c.textAlign='left';c.fillText(v.toFixed(2),3773,p+7);});
  const p=Math.round(y.getPixelForValue(currentPrice));c.fillStyle='#000';c.fillRect(3765,p-11,70,23);c.fillStyle='#fff';c.textAlign='left';c.font='17.5px '+FONT;c.fillText(currentPrice.toFixed(2),3773,p+2);
  c.beginPath();c.moveTo(1867,1191);c.lineTo(1891,1214);c.lineTo(1883,1216);c.lineTo(1885,1224);c.lineTo(1880,1226);c.lineTo(1877,1215);c.lineTo(1867,1222);c.closePath();c.fillStyle='#fff';c.fill();c.strokeStyle='#334';c.lineWidth=1;c.stroke();
  c.restore();}};

new Chart(document.getElementById('c').getContext('2d'),{
 type:'bar',
 data:{labels,datasets:[
  currentDataset,
  ...levelDatasets,
  {type:'bar',data:wicks,grouped:false,barPercentage:.25,categoryPercentage:1,backgroundColor:'#000',borderWidth:0,order:2},
  {type:'bar',data:bodies,grouped:false,barPercentage:.75,categoryPercentage:1,backgroundColor:bodyFill,borderColor:'#000',borderWidth:1,borderSkipped:false,order:1}
 ]},
 options:{responsive:false,devicePixelRatio:1,animation:false,
  layout:{autoPadding:false,padding:{left:3.5,top:4,right:0,bottom:0}},
  plugins:{legend:{display:false},tooltip:{enabled:false},title:{display:false}},
  events:[],
  scales:{
   x:{type:'category',offset:true,
    afterFit(s){s.height=35;zeroPad(s);},
    afterBuildTicks(s){s.ticks=s.ticks.filter(t=>t.value%16===0);},
    grid:{offset:false,color:'#C0C0C0',lineWidth:1,tickColor:ctx=>(ctx.tick&&ctx.tick.value%32===0)?'#000':'rgba(0,0,0,0)',tickLength:4,tickBorderDash:[]},
    border:{display:false,dash:[4,2]},
    ticks:{autoSkip:false,maxRotation:0,minRotation:0,align:'start',padding:4,labelOffset:-1.5,color:'#000',font:{family:FONT,size:18.5},
     callback(v){return v%32===0?(dateLabels[v/32]||''):'';}}},
   y:{type:'linear',position:'right',min:113.8,max:164.84,
    afterFit(s){s.width=76.5;zeroPad(s);},
    afterBuildTicks(s){s.ticks=priceTicks.map(v=>({value:v}));},
    grid:{color:'#C0C0C0',lineWidth:1,tickColor:'#000',tickLength:4,tickBorderDash:[]},
    border:{display:false,dash:[4,2]},
    ticks:{padding:5,crossAlign:'near',labelOffset:1.5,color:'#000',font:{family:FONT,size:17.5},callback(v){return Number(v).toFixed(2);}}}
  }},
 plugins:[overlay]});
</script></body></html>
